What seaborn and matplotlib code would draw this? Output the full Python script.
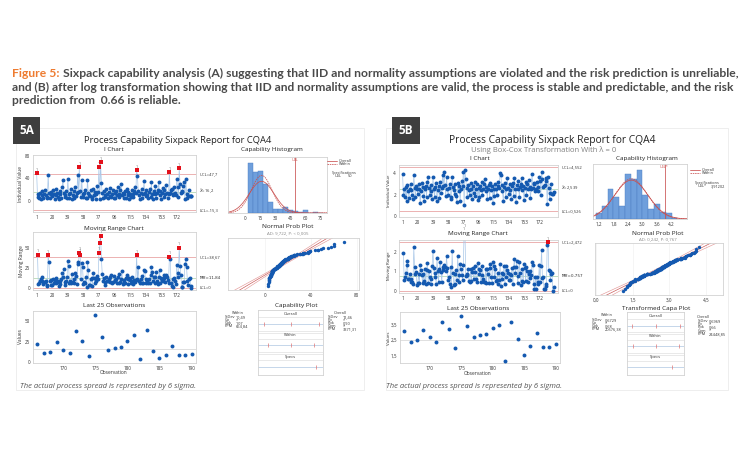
import numpy as np
import pandas as pd
import matplotlib
matplotlib.use("Agg")
import matplotlib.pyplot as plt
from matplotlib.patches import Rectangle
import seaborn as sns
from statistics import NormalDist

# ---------------- data ----------------
cqa4_values = [
    49, 7, 12, 6, 15, 4, 18, 10, 5.5, 13, 20, 11, 7, 5, 46, 14, 6, 16, 12,
    8, 19, 13, 3.5, 10, 22, 15, 6.5, 4, 12, 17, 6, 25, 38, 14, 7, 10, 18, 5,
    39, 12, 6, 15, 21, 4, 11, 17, 5.5, 24, 9, 14, 46, 16, 60, 18, 6.5, 38, 12,
    7, 14, 20, 6, 5, 38, 15, 11, 8, 19, 6.5, 3.8, 22, 10, 16, 4, 12, 27, 16,
    60, 3, 69, 32, 14, 6, 18, 11, 7, 21, 13, 5, 16, 9, 23, 6.5, 12, 19, 4.5,
    14, 6, 17, 11, 25, 7, 13, 20, 31, 10, 15, 5, 12, 18, 5.5, 22, 11, 16, 3.6,
    13, 6.5, 20, 12, 7, 17, 24, 14, 55, 44, 18, 10, 4.2, 15, 21, 6, 12, 35, 14,
    8, 19, 11, 5, 16, 22, 6.5, 33, 13, 3.9, 18, 12, 26, 6, 15, 20, 33, 11, 17,
    4.4, 14, 23, 7, 19, 12, 28, 15, 5.5, 12, 51, 14, 20, 22, 10.9, 12, 24, 15, 10.5,
    38.7, 25.4, 7.3, 58, 30.6, 15, 16.5, 18, 25.8, 33, 3.2, 39, 13.3, 4.8, 8.5, 19.8, 8, 8, 9.7,
]
boxcox_lambda = 0          # Box-Cox with lambda = 0 -> natural log
index_ticks = [1, 20, 39, 58, 77, 96, 115, 134, 153, 172]
last25_ticks = [170, 175, 180, 185, 190]

A_MEAN, A_UCL, A_LCL = 16.2, 47.7, -15.3
A_MR_BAR, A_MR_UCL = 11.84, 38.67
A_SD_WITHIN, A_SD_OVERALL, A_USL = 10.49, 12.46, 50.0
B_MEAN, B_UCL, B_LCL = 2.539, 4.552, 0.526
B_MR_BAR, B_MR_UCL = 0.757, 2.472
B_SD_WITHIN, B_SD_OVERALL, B_USL = 0.6729, 0.6969, 3.91202

MRBAR = "M\u0305R\u0305"
a_i_labels = ["UCL=47,7", r"$\bar{X}$=16,2", "LCL=-15,3"]
a_mr_labels = ["UCL=38,67", MRBAR + "=11,84", "LCL=0"]
b_i_labels = ["UCL=4,552", r"$\bar{X}$=2,539", "LCL=0,526"]
b_mr_labels = ["UCL=2,472", MRBAR + "=0,757", "LCL=0"]
a_within_stats = [("StDev", "10,49"), ("Cp", "*"), ("Cpk", "1,07"), ("PPM", "664,84")]
a_overall_stats = [("StDev", "12,46"), ("Pp", "*"), ("Ppk", "0,90"), ("Cpm", "*"), ("PPM", "3371,31")]
b_within_stats = [("StDev", "0,6729"), ("Cp", "*"), ("Cpk", "0,68"), ("PPM", "20576,38")]
b_overall_stats = [("StDev", "0,6969"), ("Pp", "*"), ("Ppk", "0,66"), ("Cpm", "*"), ("PPM", "24448,85")]
a_ad_text = "AD: 9,722, P: < 0,005"
b_ad_text = "AD: 0,242, P: 0,767"

caption_lead = "Figure 5:"
caption_line1 = "Sixpack capability analysis (A) suggesting that IID and normality assumptions are violated and the risk prediction is unreliable,"
caption_line2 = "and (B) after log transformation showing that IID and normality assumptions are valid, the process is stable and predictable, and the risk"
caption_line3 = "prediction from  0.66 is reliable."
report_title = "Process Capability Sixpack Report for CQA4"
b_subtitle = "Using Box-Cox Transformation With \u03bb = 0"
note_text = "The actual process spread is represented by 6 sigma."

# ---------------- style ----------------
DOT_BLUE = "#1459B0"
LINE_BLUE = "#A9C7E8"
FLAG_RED = "#E3101B"
LIMIT_RED = "#E9A5A5"
CENTER_GREEN = "#B5D9B5"
BAR_BLUE = "#6F9FDC"
BAR_EDGE = "#4C7DC2"
CURVE_RED = "#C9504F"
TXT = "#333333"

W, H = 750, 450
sns.set_theme(style="white")
plt.rcParams["font.family"] = ["Open Sans", "DejaVu Sans"]
plt.rcParams["mathtext.fontset"] = "dejavusans"

fig = plt.figure(figsize=(W / 100, H / 100), dpi=100)
fig.patch.set_facecolor("white")
renderer = fig.canvas.get_renderer()

bg = fig.add_axes([0, 0, 1, 1], zorder=-5)
bg.set_xlim(0, W)
bg.set_ylim(H, 0)
bg.axis("off")


def axpx(box):
    x0, y0, x1, y1 = box
    ax = fig.add_axes([x0 / W, 1 - y1 / H, (x1 - x0) / W, (y1 - y0) / H])
    ax.set_facecolor("white")
    for sp in ax.spines.values():
        sp.set_color("#D2D2D2")
        sp.set_linewidth(0.6)
    ax.tick_params(labelsize=3.3, length=1.2, width=0.4, pad=1.0, colors="#777", labelcolor=TXT)
    return ax


def ftext(x, y, s, **kw):
    kw.setdefault("color", TXT)
    return fig.text(x / W, 1 - y / H, s, **kw)


def fit_width(t, width):
    bb = t.get_window_extent(renderer)
    t.set_fontsize(t.get_fontsize() * width / bb.width)


def finish_axes(ax, xlim, ylim, xticks, xlabels, yticks, ylabels):
    ax.set_xlim(*xlim)
    ax.set_ylim(*ylim)
    ax.set_xticks(xticks)
    ax.set_xticklabels(xlabels)
    ax.set_yticks(yticks)
    ax.set_yticklabels(ylabels)
    ax.set_xlabel("")
    ax.set_ylabel("")


def control_chart(ax, obs, vals, center, ucl, lcl, labels, ylim, yticks, ylabels, flag_dy):
    df = pd.DataFrame({"obs": obs, "val": vals})
    for lvl, col in ((ucl, LIMIT_RED), (center, CENTER_GREEN), (lcl, LIMIT_RED)):
        ax.axhline(lvl, color=col, linewidth=0.6, zorder=1)
    sns.lineplot(data=df, x="obs", y="val", ax=ax, color=LINE_BLUE, linewidth=0.5,
                 estimator=None, sort=False, zorder=2)
    ok = df[df.val <= ucl]
    bad = df[df.val > ucl]
    sns.scatterplot(data=ok, x="obs", y="val", ax=ax, color=DOT_BLUE, s=8, linewidth=0, zorder=3)
    if len(bad):
        sns.scatterplot(data=bad, x="obs", y="val", ax=ax, color=FLAG_RED, marker="s", s=10,
                        linewidth=0, zorder=4)
        for o, v in zip(bad.obs, bad.val):
            ax.text(o, v + flag_dy, "1", fontsize=2.6, ha="center", va="bottom", color="#666")
    tr = ax.get_yaxis_transform()
    for lvl, lab in zip((ucl, center, lcl), labels):
        ax.text(1.02, lvl, lab, transform=tr, fontsize=3.0, va="center", ha="left", color=TXT,
                fontfamily=["DejaVu Sans"] if "\u0305" in lab else None)
    finish_axes(ax, (-3.5, 195.5), ylim, index_ticks, [str(t) for t in index_ticks], yticks, ylabels)


def last25_chart(ax, vals, center, ylim, yticks, ylabels):
    obs = np.arange(len(vals) - 24, len(vals) + 1)
    df = pd.DataFrame({"obs": obs, "val": vals[-25:]})
    ax.axhline(center, color="#DADADA", linewidth=0.6, zorder=1)
    sns.scatterplot(data=df, x="obs", y="val", ax=ax, color=DOT_BLUE, s=8, linewidth=0, zorder=3)
    finish_axes(ax, (165.3, 190.7), ylim, last25_ticks, [str(t) for t in last25_ticks], yticks, ylabels)


def cap_hist(ax, vals, edges, mean, sd_w, sd_o, usl, usl_name, xlim, xticks, xlabels):
    sns.histplot(x=vals, bins=edges, ax=ax, color=BAR_BLUE, edgecolor=BAR_EDGE, linewidth=0.3, alpha=1)
    bw = edges[1] - edges[0]
    n = len(vals)
    xs = np.linspace(xlim[0], xlim[1], 300)
    for sd, ls in ((sd_o, "-"), (sd_w, (0, (2, 1)))):
        ys = n * bw * np.exp(-0.5 * ((xs - mean) / sd) ** 2) / (sd * np.sqrt(2 * np.pi))
        sns.lineplot(x=xs, y=ys, ax=ax, color=CURVE_RED, linewidth=0.55, linestyle=ls)
    counts, _ = np.histogram(vals, bins=edges)
    top = counts.max() * 1.12
    ax.axvline(usl, color=CURVE_RED, linewidth=0.55)
    ax.text(usl, top * 0.985, usl_name, fontsize=2.7, color=CURVE_RED, ha="center", va="top")
    finish_axes(ax, xlim, (0, top), xticks, xlabels, [], [])


def hist_legend(ax, usl_name, usl_text):
    ax.set_xlim(0, 1)
    ax.set_ylim(1, 0)
    ax.axis("off")
    ax.plot([0.0, 0.28], [0.1, 0.1], color=CURVE_RED, linewidth=0.55)
    ax.plot([0.0, 0.28], [0.22, 0.22], color=CURVE_RED, linewidth=0.55, linestyle=(0, (2, 1)))
    ax.text(0.36, 0.1, "Overall", fontsize=2.8, va="center", color=TXT)
    ax.text(0.36, 0.22, "Within", fontsize=2.8, va="center", color=TXT)
    ax.text(0.5, 0.62, "Specifications", fontsize=2.8, va="center", ha="center", color=TXT)
    ax.text(0.22, 0.76, usl_name, fontsize=2.8, va="center", ha="left", color=TXT)
    ax.text(0.62, 0.76, usl_text, fontsize=2.8, va="center", ha="left", color=TXT)


def prob_plot(ax, vals, xlim, xticks, xlabels):
    v = np.sort(np.asarray(vals, float))
    n = len(v)
    pr = (np.arange(1, n + 1) - 0.3) / (n + 0.4)
    z = np.array([NormalDist().inv_cdf(p) for p in pr])
    mu, sd = v.mean(), v.std(ddof=1)
    zz = np.linspace(-3.6, 3.6, 120)
    half = 1.96 * sd * np.sqrt(1 / n + zz ** 2 / (2 * (n - 1)))
    for k in (-1, 0, 1):
        sns.lineplot(x=mu + sd * zz + k * half, y=zz, ax=ax, color="#E29A9A" if k else CURVE_RED,
                     linewidth=0.45, sort=False, estimator=None)
    sns.scatterplot(x=v, y=z, ax=ax, color=DOT_BLUE, s=6, linewidth=0, zorder=3)
    ax.grid(axis="x", color="#EEEEEE", linewidth=0.4)
    finish_axes(ax, xlim, (-3.15, 3.15), xticks, xlabels, [], [])


def capa_plot(ax, mean, sd_w, sd_o, usl):
    lo, hi = mean - 3 * sd_o, mean + 3 * sd_o
    span = hi - lo
    rows = [("Overall", 0.94, 0.785, [lo, mean, hi]),
            ("Within", 0.615, 0.46, [mean - 3 * sd_w, mean, mean + 3 * sd_w]),
            ("Specs", 0.28, 0.12, [usl])]
    for yy in (0.885, 0.68, 0.65, 0.56, 0.355, 0.325, 0.225):
        ax.axhline(yy, color="#DDDDDD", linewidth=0.45)
    for name, ty, ly, marks in rows:
        ax.text(0.5, ty, name, transform=ax.transAxes, ha="center", va="center", fontsize=3.0, color=TXT)
        ax.axhline(ly, color="#BCD0E6", linewidth=0.6)
        ax.plot(marks, [ly] * len(marks), linestyle="none", marker="|", color="#E07575",
                markersize=3.2, markeredgewidth=0.5)
    ax.set_xlim(lo - 0.1 * span, hi + 0.08 * span)
    ax.set_ylim(0, 1)
    ax.set_xticks([])
    ax.set_yticks([])


def stats_block(header, hx, hy, rows, lx, vx, y0, dy):
    ftext(hx, hy, header, fontsize=2.8, ha="center", va="center")
    for i, (k, v) in enumerate(rows):
        ftext(lx, y0 + dy * i, k, fontsize=2.8, ha="left", va="center")
        ftext(vx, y0 + dy * i, v, fontsize=2.8, ha="left", va="center")


def sub_title(x, y, s, size=4.6):
    ftext(x, y, s, fontsize=size, ha="center", va="center", color="#222")


def comma(vals, fmt):
    return [format(v, fmt).replace(".", ",") for v in vals]


# ---------------- caption ----------------
cap_kw = dict(fontfamily=["Lato", "DejaVu Sans"], fontweight="bold", fontsize=8, va="center")
t_lead = ftext(12, 73.5, caption_lead, color="#EE7B30", **cap_kw)
t_rest = ftext(12, 73.5, caption_line1, color="#4A4A4A", **cap_kw)
w_lead = t_lead.get_window_extent(renderer).width
w_rest = t_rest.get_window_extent(renderer).width
space = 8 * 0.26 * 100 / 72
scale = 727 / (w_lead + space + w_rest)
t_lead.set_fontsize(8 * scale)
t_rest.set_fontsize(8 * scale)
w_lead = t_lead.get_window_extent(renderer).width
t_rest.set_position(((12 + w_lead + space * scale) / W, 1 - 73.5 / H))
t2 = ftext(12, 87.3, caption_line2, color="#4A4A4A", **cap_kw)
fit_width(t2, 727)
t3 = ftext(12, 101, caption_line3, color="#4A4A4A", **cap_kw)
t3.set_fontsize(t2.get_fontsize())

# ---------------- panel frames and labels ----------------
for (x0, y0, x1, y1) in ((16, 128, 364, 390), (386, 128, 728, 390)):
    bg.add_patch(Rectangle((x0, y0), x1 - x0, y1 - y0, facecolor="white", edgecolor="#EBEBEB", linewidth=0.6))
for (x0, y0, x1, y1), lab in (((13, 117, 40, 144), "5A"), ((392, 117, 420, 144), "5B")):
    bg.add_patch(Rectangle((x0, y0), x1 - x0, y1 - y0, facecolor="#3E3E3E", edgecolor="none"))
    bg.text((x0 + x1) / 2, (y0 + y1) / 2 + 0.5, lab, color="white", fontsize=8.5, fontweight="bold",
            ha="center", va="center", fontfamily=["Open Sans", "DejaVu Sans"])

a_vals = np.asarray(cqa4_values, float)
b_vals = np.log(a_vals) if boxcox_lambda == 0 else a_vals ** boxcox_lambda
obs_all = np.arange(1, len(a_vals) + 1)

# ---------------- panel A ----------------
tA = ftext(177.5, 140.5, report_title, fontsize=8, ha="center", va="center", color="#222")
fit_width(tA, 189)
sub_title(114, 149.5, "I Chart")
sub_title(114, 228.3, "Moving Range Chart")
sub_title(114, 305.7, "Last 25 Observations")
sub_title(272, 150, "Capability Histogram")
sub_title(288, 226.7, "Normal Prob Plot")
ftext(288, 232.7, a_ad_text, fontsize=3.2, ha="center", va="center", color="#888")
sub_title(296.7, 305, "Capability Plot")
for y, s in ((184, "Individual Value"), (261, "Moving Range"), (337, "Values")):
    ftext(21, y, s, fontsize=3.5, rotation=90, ha="center", va="center")
ftext(114, 373, "Observation", fontsize=3.5, ha="center", va="center")
tn = ftext(20, 386, note_text, fontsize=6, style="italic", ha="left", va="center", color="#555")
fit_width(tn, 178)

ax = axpx((33, 155, 196, 212))
control_chart(ax, obs_all, a_vals, A_MEAN, A_UCL, A_LCL, a_i_labels, (-19.6, 81.8),
              [0, 40, 80], ["0", "40", "80"], 2.5)
a_mr = np.abs(np.diff(a_vals))
ax = axpx((33, 232, 196, 290))
control_chart(ax, obs_all[1:], a_mr, A_MR_BAR, A_MR_UCL, 0, a_mr_labels, (-2.9, 70.6),
              [0, 25, 50], ["0", "25", "50"], 2.0)
ax = axpx((33, 311, 196, 363))
last25_chart(ax, a_vals, A_MEAN, (-1.5, 63), [0, 25, 50], ["0", "25", "50"])
ax = axpx((228, 157, 327, 213))
a_edges = np.arange(2.5, 80, 5.0)
a_hx = [0, 15, 30, 45, 60, 75]
cap_hist(ax, a_vals, a_edges, A_MEAN, A_SD_WITHIN, A_SD_OVERALL, A_USL, "USL",
         (-17.5, 81.8), a_hx, [str(v) for v in a_hx])
hist_legend(axpx((327, 159, 361, 181)), "USL", "50")
ax = axpx((228, 238, 359, 290))
prob_plot(ax, a_vals, (-32, 82), [0, 40, 80], ["0", "40", "80"])
ax = axpx((258, 310, 323, 375))
capa_plot(ax, A_MEAN, A_SD_WITHIN, A_SD_OVERALL, A_USL)
stats_block("Within", 238.3, 313.3, a_within_stats, 225, 236, 317.3, 2.95)
stats_block("Overall", 340, 313.3, a_overall_stats, 328, 342.5, 317.3, 3.0)

# ---------------- panel B ----------------
tB = ftext(552.5, 140.5, report_title, fontsize=8, ha="center", va="center", color="#222")
fit_width(tB, 208)
tBs = ftext(544, 149.6, b_subtitle, fontsize=6, ha="center", va="center", color="#808080")
fit_width(tBs, 148)
sub_title(480, 158.3, "I Chart")
sub_title(478, 233.3, "Moving Range Chart")
sub_title(478, 308.3, "Last 25 Observations")
sub_title(646.7, 158.3, "Capability Histogram")
sub_title(658, 233.3, "Normal Prob Plot")
ftext(658, 238.6, b_ad_text, fontsize=3.2, ha="center", va="center", color="#888")
sub_title(655.7, 308.3, "Transformed Capa Plot")
for y, s in ((191, "Individual Value"), (266, "Moving Range"), (338, "Values")):
    ftext(389, y, s, fontsize=3.2, rotation=90, ha="center", va="center")
ftext(478, 373.3, "Observation", fontsize=3.5, ha="center", va="center")
tn2 = ftext(386, 386, note_text, fontsize=6, style="italic", ha="left", va="center", color="#555")
fit_width(tn2, 177)

ax = axpx((399, 165, 558, 217))
control_chart(ax, obs_all, b_vals, B_MEAN, B_UCL, B_LCL, b_i_labels, (-0.05, 4.74),
              [0, 2, 4], ["0", "2", "4"], 0.12)
b_mr = np.abs(np.diff(b_vals))
ax = axpx((399, 240, 558, 293))
control_chart(ax, obs_all[1:], b_mr, B_MR_BAR, B_MR_UCL, 0, b_mr_labels, (-0.12, 2.6),
              [0, 1, 2], ["0", "1", "2"], 0.07)
ax = axpx((400, 312, 560, 363))
last25_chart(ax, b_vals, B_MEAN, (1.04, 4.3), [1.5, 2.5, 3.5], comma([1.5, 2.5, 3.5], ".1f"))
ax = axpx((593, 164, 687, 219))
b_edges = np.arange(1.08, 4.6, 0.24)
b_hx = [1.2, 1.8, 2.4, 3.0, 3.6, 4.2]
cap_hist(ax, b_vals, b_edges, B_MEAN, B_SD_WITHIN, B_SD_OVERALL, B_USL, "USL*",
         (0.958, 4.84), b_hx, comma(b_hx, ".1f"))
hist_legend(axpx((690, 168, 724, 192)), "USL*", "3,91202")
ax = axpx((595, 243, 723, 295))
b_px = [0.0, 1.5, 3.0, 4.5]
prob_plot(ax, b_vals, (-0.05, 5.2), b_px, comma(b_px, ".1f"))
ax = axpx((627, 312, 684, 375))
capa_plot(ax, B_MEAN, B_SD_WITHIN, B_SD_OVERALL, B_USL)
stats_block("Within", 606.7, 315, b_within_stats, 591.5, 604.5, 320, 3.0)
stats_block("Overall", 703.3, 317.3, b_overall_stats, 697.5, 709, 321, 3.2)

fig.savefig("out.png", dpi=100, facecolor="white")
